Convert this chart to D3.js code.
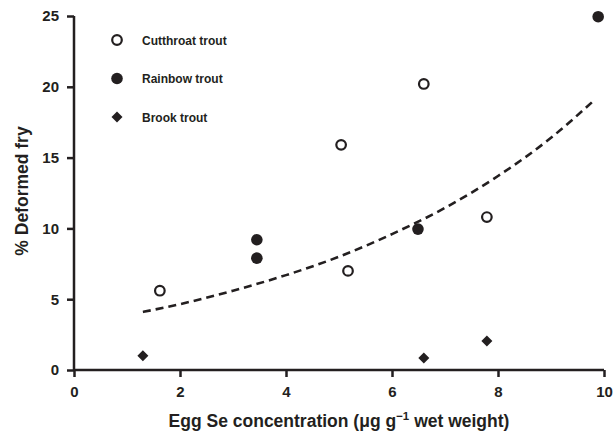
<!DOCTYPE html>
<html>
<head>
<meta charset="utf-8">
<script src="https://cdn.jsdelivr.net/npm/d3@7"></script>
<style>
  body { margin: 0; background: #fff; }
  text { font-family: "Liberation Sans", Arial, sans-serif; font-weight: bold; fill: #231f20; }
</style>
</head>
<body>
<script>
// values
const cutthroat = [[1.62, 5.6], [5.04, 15.9], [5.17, 7.0], [6.6, 20.2], [7.79, 10.8]];
const rainbow = [[3.45, 9.2], [3.45, 7.9], [6.49, 9.95], [9.89, 24.95]];
const brook = [[1.3, 1.0], [6.6, 0.85], [7.79, 2.05]];
const trend = [[1.3, 4.1], [2, 4.65], [3, 5.6], [4, 6.7], [5, 8.0], [6, 9.6], [7, 11.45], [8, 13.7], [9, 16.4], [9.8, 19.0]];
const xTicks = [0, 2, 4, 6, 8, 10];
const yTicks = [0, 5, 10, 15, 20, 25];
const legendLabels = ['Cutthroat trout', 'Rainbow trout', 'Brook trout'];

const W = 614, H = 434;
const ink = '#231f20';

const svg = d3.select('body').append('svg')
  .attr('width', W)
  .attr('height', H);

const x = d3.scaleLinear().domain([0, 10]).range([74, 604]);
const y = d3.scaleLinear().domain([0, 25]).range([370, 16]);

// axes
const xAxis = svg.append('g')
  .attr('transform', `translate(0, ${y(0)})`)
  .call(d3.axisBottom(x).tickValues(xTicks).tickSize(7).tickPadding(9).tickFormat(d3.format('d')));
const yAxis = svg.append('g')
  .attr('transform', `translate(${x(0)}, 0)`)
  .call(d3.axisLeft(y).tickValues(yTicks).tickSize(7).tickPadding(8).tickFormat(d3.format('d')));

[xAxis, yAxis].forEach(g => {
  g.select('.domain').attr('stroke', ink).attr('stroke-width', 2.5)
    .attr('d', g === xAxis ? `M${x(0)},0H${x(10)}` : `M0,${y(0)}V${y(25)}`);
  g.selectAll('.tick line').attr('stroke', ink).attr('stroke-width', 2.5);
  g.selectAll('.tick text')
    .style('font-family', '"Liberation Sans", Arial, sans-serif')
    .style('font-weight', 'bold')
    .style('font-size', '15px')
    .attr('fill', ink);
});

// axis titles
svg.append('text')
  .attr('x', 339)
  .attr('y', 427)
  .attr('text-anchor', 'middle')
  .style('font-size', '17.5px')
  .html('Egg Se concentration (<tspan>\u03bc</tspan>g g<tspan dy="-7" font-size="11.5px">\u22121</tspan><tspan dy="7"> wet weight)</tspan>');

svg.append('text')
  .attr('transform', `translate(28, 191) rotate(-90)`)
  .attr('text-anchor', 'middle')
  .style('font-size', '17.5px')
  .text('% Deformed fry');

// trend line
svg.append('path')
  .datum(trend)
  .attr('fill', 'none')
  .attr('stroke', ink)
  .attr('stroke-width', 2.6)
  .attr('stroke-dasharray', '8,5')
  .attr('d', d3.line().x(d => x(d[0])).y(d => y(d[1])).curve(d3.curveMonotoneX));

// points
svg.selectAll('.cut').data(cutthroat).enter().append('circle')
  .attr('cx', d => x(d[0])).attr('cy', d => y(d[1]))
  .attr('r', 4.8)
  .attr('fill', '#fff').attr('stroke', ink).attr('stroke-width', 2.2);

svg.selectAll('.rain').data(rainbow).enter().append('circle')
  .attr('cx', d => x(d[0])).attr('cy', d => y(d[1]))
  .attr('r', 5.8)
  .attr('fill', ink);

const diamond = 'M0,-5.5L5.5,0L0,5.5L-5.5,0Z';
svg.selectAll('.brook').data(brook).enter().append('path')
  .attr('transform', d => `translate(${x(d[0])}, ${y(d[1])})`)
  .attr('d', diamond)
  .attr('fill', ink);

// legend
const legend = svg.append('g').attr('transform', 'translate(117, 40)');
legendLabels.forEach((label, i) => {
  const g = legend.append('g').attr('transform', `translate(0, ${i * 38.5})`);
  if (i === 0) {
    g.append('circle').attr('r', 4.8).attr('fill', '#fff').attr('stroke', ink).attr('stroke-width', 2.2);
  } else if (i === 1) {
    g.append('circle').attr('r', 5.8).attr('fill', ink);
  } else {
    g.append('path').attr('d', diamond).attr('fill', ink);
  }
  g.append('text')
    .attr('x', 25)
    .attr('y', 4.5)
    .style('font-size', '12px')
    .text(label);
});
</script>
</body>
</html>
